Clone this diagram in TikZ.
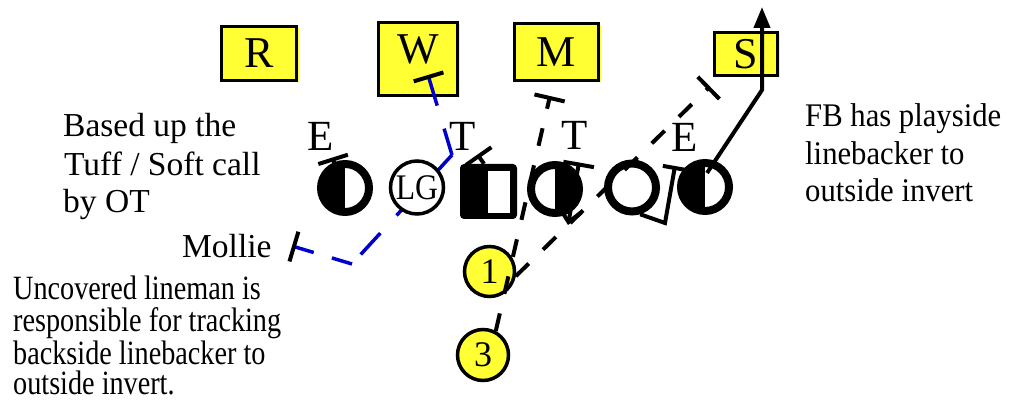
\documentclass[tikz,border=0pt]{standalone}
\usepackage{fontspec}
\setmainfont{Liberation Serif}
\newfontfamily\condfont[FakeStretch=0.83]{Liberation Serif}
\newfontfamily\fbfont[FakeStretch=0.93]{Liberation Serif}
\newfontfamily\lgfont[FakeStretch=0.88]{Liberation Serif}
\usetikzlibrary{arrows.meta,shadows,calc}
\definecolor{pyellow}{RGB}{255,255,51}
\definecolor{pblue}{RGB}{0,0,204}
\begin{document}
\begin{tikzpicture}[x=1pt,y=-1pt,
  defbox/.style={draw=black, line width=3pt, fill=pyellow, inner sep=0pt,
    font=\fontsize{44}{44}\selectfont,
    general shadow={fill=pyellow, shadow xshift=2pt, shadow yshift=-2pt}},
  lineman/.style={circle, draw=black, line width=8pt, fill=white, minimum size=48pt, inner sep=0pt},
  halfleft/.style={lineman, path picture={\fill[black] (path picture bounding box.north) rectangle (path picture bounding box.south west);}},
  halfright/.style={lineman, path picture={\fill[black] (path picture bounding box.north) rectangle (path picture bounding box.south east);}},
  back/.style={circle, draw=black, line width=3.5pt, fill=pyellow, inner sep=0pt, font=\fontsize{36}{36}\selectfont},
  poslabel/.style={anchor=base, inner sep=0pt, font=\fontsize{43}{43}\selectfont},
  note/.style={anchor=base west, inner sep=0pt, font=\fontsize{33.5}{38}\selectfont},
  condnote/.style={anchor=base west, inner sep=0pt, font=\condfont\fontsize{34}{32}\selectfont},
  fbnote/.style={anchor=base west, inner sep=0pt, font=\fbfont\fontsize{33}{38}\selectfont},
  route/.style={line width=4pt, black},
  dashedroute/.style={route, dash pattern=on 18pt off 20pt},
  blueroute/.style={line width=3.5pt, pblue, dash pattern=on 29pt off 24pt},
  blockbar/.tip={Bar[width=31pt, line width=4pt, color=black]},
  shortbar/.tip={Bar[width=24pt, line width=4pt, color=black]}
]
\useasboundingbox (0,0) rectangle (1023,403);

% texts
\node[note] (t1) at (63,137) {Based up the};
\node[note] (t2) at (64,176) {Tuff / Soft call};
\node[note] (t3) at (63,213) {by OT};
\node[note] (mol) at (182,258) {Mollie};
\node[condnote] (u1) at (13,300) {Uncovered lineman is};
\node[condnote] (u2) at (13,332) {responsible for tracking};
\node[condnote] (u3) at (13,364) {backside linebacker to};
\node[condnote] (u4) at (13,395) {outside invert.};
\node[fbnote] (f1) at (805,127) {FB has playside};
\node[fbnote] (f2) at (805,165) {linebacker to};
\node[fbnote] (f3) at (805,202) {outside invert};

% defender labels
\node[poslabel] (le) at (321,151) {E};
\node[poslabel] (lt) at (463,151) {T};
\node[poslabel] (rtl) at (575,150) {T};
\node[poslabel] (re) at (685,152) {E};

% linebackers
\node[defbox, minimum width=75pt, minimum height=54pt] (R) at (259,53.5) {R};
\node[defbox, minimum width=79pt, minimum height=73pt, text depth=20pt] (W) at (418,59) {W};
\node[defbox, minimum width=84pt, minimum height=57pt] (M) at (556.5,52) {M};
\node[defbox, minimum width=63pt, minimum height=43pt] (S) at (746,54) {S};

% Mollie route (blue), behind LG
\coordinate (wbar) at (428,75);
\coordinate (bend1) at (452,155);
\coordinate (bend2) at (352,264);
\coordinate (molbar) at (292,246);
\draw[blueroute, blockbar-] (wbar) -- (bend1);
\draw[blueroute] (bend1) -- (bend2);
\draw[blueroute, dash pattern=on 21pt off 19pt, -blockbar] (bend2) -- (molbar);

% left end block stem
\coordinate (lestem) at (335.5,167);
\coordinate (lebar) at (332.5,157.5);
\draw[route, -blockbar] (lestem) -- (lebar);

% linemen
\node[halfleft] (LE) at (345,188) {};
\node[circle, draw=black, line width=3.5pt, fill=white, minimum size=53pt, inner sep=0pt,
      font=\lgfont\fontsize{36}{36}\selectfont] (LG) at (417,187.5) {LG};
\node[rectangle, fill=black, rounded corners=4pt, minimum width=57pt, minimum height=55pt, inner sep=0pt] (C) at (488.5,191.5) {};
\fill[white] (488,171) rectangle (510,213);
\node[halfright] (RG) at (555,189) {};
\node[lineman] (RT) at (632,187.5) {};
\node[halfleft] (TE) at (705,187) {};

% backs
\node[back, minimum size=50pt] (N1) at (489.5,271.5) {1};
\node[back, minimum size=51pt] (N3) at (483,355) {3};

% center block
\coordinate (cbar) at (477.5,154.5);
\draw[route, -blockbar] ($(C.north)+(-4.5,0)$) -- (cbar);

% right guard
\coordinate (rgbar) at (579,162.5);
\coordinate (rgtip) at (568,225);
\draw[route, blockbar-{Straight Barb[length=12pt,width=22pt]}] (rgbar) -- (rgtip);

% right tackle
\coordinate (rtbend) at (665,223);
\coordinate (rtbar) at (675,166);
\draw[route, -shortbar] (RT.-73) -- (rtbend) -- (rtbar);

% FB to M
\coordinate (mbar) at (550,96);
\draw[dashedroute, -blockbar] (N3.62) -- (mbar);

% 1 to S
\coordinate (sbar) at (710,86.5);
\draw[dashedroute, -blockbar] (N1.-10) -- (sbar);

% TE release
\coordinate (tebend) at (762,90);
\coordinate (tetop) at (762,7);
\draw[route, -{Triangle[length=21pt,width=16pt]}] ($(TE.center)+(2,-14)$) -- (tebend) -- (tetop);
\end{tikzpicture}
\end{document}
